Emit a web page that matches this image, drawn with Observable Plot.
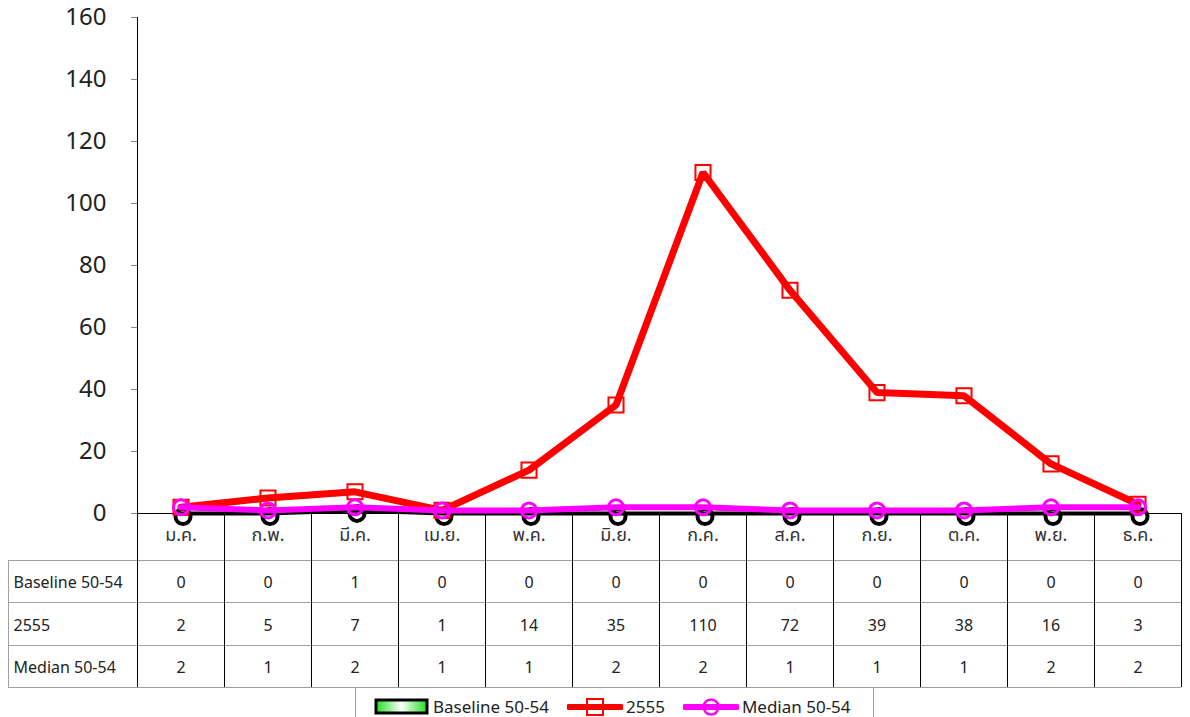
<!DOCTYPE html>
<html>
<head>
<meta charset="utf-8">
<script src="https://cdn.jsdelivr.net/npm/d3@7"></script>
<script src="https://cdn.jsdelivr.net/npm/@observablehq/plot@0.6"></script>
<style>
  html, body { margin: 0; padding: 0; background: #fff; }
  body { width: 1190px; height: 717px; position: relative; overflow: hidden;
         font-family: "Noto Sans", "Noto Sans Thai", Tahoma, "DejaVu Sans", sans-serif; }
  #chart { position: absolute; left: 0; top: 0; }
  #legend { position: absolute; left: 355px; top: 687px; width: 519px; height: 40px;
            border: 1px solid #a0a0a0; box-sizing: border-box; background: #fff;
            font-size: 17px; color: #222; display: flex; align-items: flex-start; padding-top: 7px; padding-left: 18px; }
  #legend .item { display: flex; align-items: center; margin-right: 18px; }
  #legend svg { margin-right: 3px; }
</style>
</head>
<body>
<div id="chart"></div>
<div id="legend"></div>
<script>
// ---- data ----
const months = ["ม.ค.", "ก.พ.", "มี.ค.", "เม.ย.", "พ.ค.", "มิ.ย.", "ก.ค.", "ส.ค.", "ก.ย.", "ต.ค.", "พ.ย.", "ธ.ค."];
const seriesNames = ["Baseline 50-54", "2555", "Median 50-54"];
const baseline = [0, 0, 1, 0, 0, 0, 0, 0, 0, 0, 0, 0];
const y2555 = [2, 5, 7, 1, 14, 35, 110, 72, 39, 38, 16, 3];
const median = [2, 1, 2, 1, 1, 2, 2, 1, 1, 1, 2, 2];
const yTicks = [0, 20, 40, 60, 80, 100, 120, 140, 160];

const seriesValues = [baseline, y2555, median];
const rows = (vals) => months.map((m, i) => ({month: m, value: vals[i]}));

const W = 1190, H = 690, ML = 137, MR = 9, MT = 17, MB = 177;
// table row offsets below the x axis (pixels)
const rowLines = [47, 89, 132, 174];
const rowText = [69, 112, 154];
const font = `"Noto Sans", "Noto Sans Thai", Tahoma, "DejaVu Sans", sans-serif`;

function tableGrid(index, scales, values, dims) {
  const x = scales.x;
  const g = d3.create("svg:g").attr("fill", "none");
  const top = dims.height - dims.marginBottom;
  const left = dims.marginLeft, right = dims.width - dims.marginRight;
  // y axis line
  g.append("line").attr("x1", left + 0.5).attr("x2", left + 0.5)
    .attr("y1", dims.marginTop).attr("y2", top).attr("stroke", "#000");
  // horizontal table lines
  rowLines.forEach((o) => {
    g.append("line").attr("x1", 8).attr("x2", right)
      .attr("y1", top + o + 0.5).attr("y2", top + o + 0.5)
      .attr("stroke", "#a0a0a0");
  });
  // left edge of label column
  g.append("line").attr("x1", 8.5).attr("x2", 8.5)
    .attr("y1", top + rowLines[0]).attr("y2", top + rowLines[rowLines.length - 1])
    .attr("stroke", "#a0a0a0");
  // vertical lines at band edges
  const bw = x.bandwidth ? x.bandwidth() : (right - left) / months.length;
  const edges = months.map(m => x(m)).concat([x(months[months.length - 1]) + bw]);
  edges.forEach((e) => {
    g.append("line").attr("x1", Math.round(e) + 0.5).attr("x2", Math.round(e) + 0.5)
      .attr("y1", top).attr("y2", top + rowLines[rowLines.length - 1])
      .attr("stroke", "#000");
  });
  return g.node();
}

const marks = [
  tableGrid,
  Plot.ruleY([0], {stroke: "#000"}),
  Plot.axisY({ticks: yTicks, tickSize: 6, tickPadding: 25, fontSize: 24, stroke: "#888", fill: "#222", label: null}),
  Plot.axisX({tickSize: 0, tickPadding: 15, fontSize: 18, fill: "#333", label: null}),
  // baseline series (black, shadowed rings)
  Plot.line(rows(baseline), {x: "month", y: "value", stroke: "#000", strokeWidth: 4}),
  Plot.dot(rows(baseline), {x: "month", y: "value", r: 7.5, stroke: "#000", strokeWidth: 4, fill: "none", dx: 2, dy: 3}),
  // 2555
  Plot.line(rows(y2555), {x: "month", y: "value", stroke: "#ff0000", strokeWidth: 7, strokeLinejoin: "miter"}),
  Plot.dot(rows(y2555), {x: "month", y: "value", symbol: "square", r: 8.5, stroke: "#ff0000", strokeWidth: 2, fill: "none"}),
  // median
  Plot.line(rows(median), {x: "month", y: "value", stroke: "#ff00ff", strokeWidth: 6}),
  Plot.dot(rows(median), {x: "month", y: "value", r: 7.5, stroke: "#ff00ff", strokeWidth: 3, fill: "none"}),
];
// table text
seriesNames.forEach((name, k) => {
  marks.push(Plot.text([name], {frameAnchor: "bottom-left", lineAnchor: "middle", dx: -124, dy: rowText[k], textAnchor: "start", fontSize: 16, fill: "#222"}));
  marks.push(Plot.text(rows(seriesValues[k]), {x: "month", text: d => String(d.value), frameAnchor: "bottom", lineAnchor: "middle", dy: rowText[k], fontSize: 16, fill: "#222"}));
});

const chart = Plot.plot({
  width: W, height: H,
  marginLeft: ML, marginRight: MR, marginTop: MT, marginBottom: MB,
  style: {fontFamily: font, background: "#fff", overflow: "visible"},
  x: {type: "band", domain: months, padding: 0, axis: null},
  y: {domain: [0, 160], axis: null},
  marks
});
document.getElementById("chart").appendChild(chart);

// legend
const legend = d3.select("#legend");
const it1 = legend.append("div").attr("class", "item");
const s1 = it1.append("svg").attr("width", 56).attr("height", 18);
const hgrad = s1.append("defs").append("linearGradient").attr("id", "g2");
hgrad.append("stop").attr("offset", "0").attr("stop-color", "#22dd22");
hgrad.append("stop").attr("offset", "0.5").attr("stop-color", "#ffffff");
hgrad.append("stop").attr("offset", "1").attr("stop-color", "#22dd22");
s1.append("rect").attr("x", 2).attr("y", 2).attr("width", 51).attr("height", 13).attr("fill", "url(#g2)").attr("stroke", "#000").attr("stroke-width", 3);
it1.append("span").text(seriesNames[0]);

const it2 = legend.append("div").attr("class", "item");
const s2 = it2.append("svg").attr("width", 56).attr("height", 18);
s2.append("line").attr("x1", 2).attr("x2", 54).attr("y1", 9).attr("y2", 9).attr("stroke", "#ff0000").attr("stroke-width", 6).attr("stroke-linecap", "round");
s2.append("rect").attr("x", 20).attr("y", 1).attr("width", 16).attr("height", 16).attr("fill", "none").attr("stroke", "#ff0000").attr("stroke-width", 2);
it2.append("span").text(seriesNames[1]);

const it3 = legend.append("div").attr("class", "item");
const s3 = it3.append("svg").attr("width", 56).attr("height", 18);
s3.append("line").attr("x1", 2).attr("x2", 54).attr("y1", 9).attr("y2", 9).attr("stroke", "#ff00ff").attr("stroke-width", 6).attr("stroke-linecap", "round");
s3.append("circle").attr("cx", 28).attr("cy", 9).attr("r", 7.5).attr("fill", "none").attr("stroke", "#ff00ff").attr("stroke-width", 2.5);
it3.append("span").text(seriesNames[2]);
</script>
</body>
</html>
